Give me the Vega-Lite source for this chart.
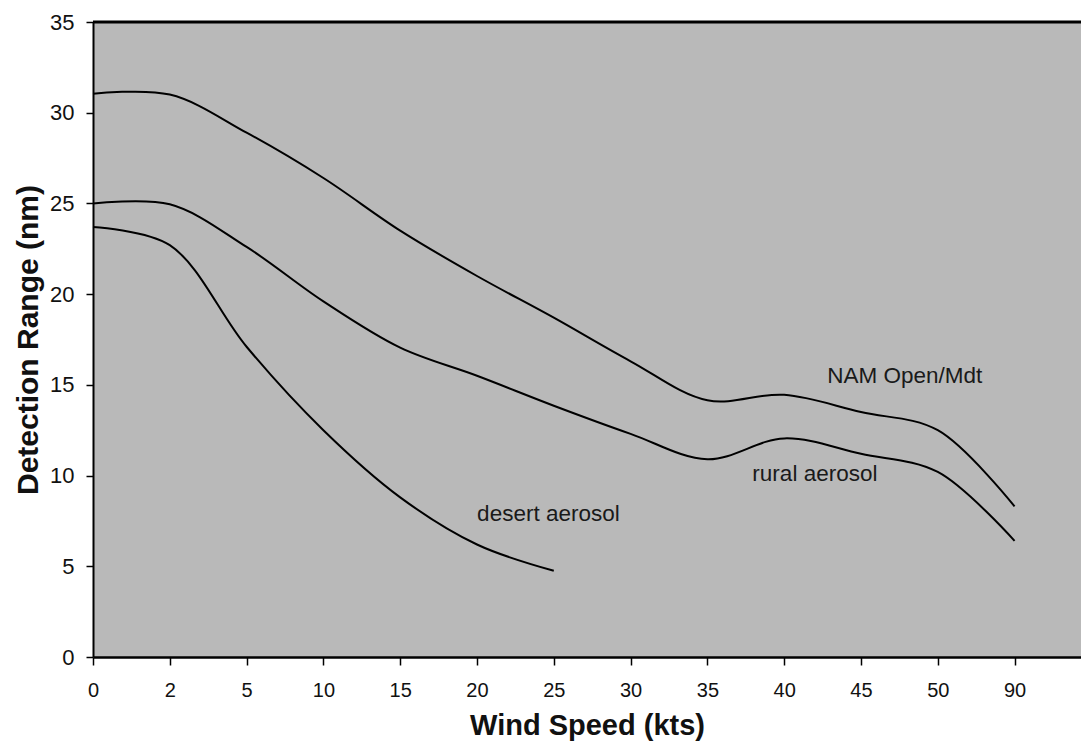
{
  "$schema": "https://vega.github.io/schema/vega-lite/v6.json",
  "autosize": {"type": "none"},
  "padding": {"left": 93, "top": 22, "right": 0, "bottom": 89},
  "width": 988,
  "height": 635,
  "background": "white",
  "config": {
    "view": {"fill": "#b9b9b9", "stroke": null},
    "font": "Liberation Sans",
    "axis": {"grid": false, "domainColor": "black", "tickColor": "black", "labelColor": "#111", "titleColor": "#111", "labelFont": "Liberation Sans", "titleFont": "Liberation Sans"}
  },
  "datasets": {
    "curves": [
      {"series": "NAM Open/Mdt", "pos": 0, "wind": "0", "range": 31.05},
      {"series": "NAM Open/Mdt", "pos": 1, "wind": "2", "range": 31.0},
      {"series": "NAM Open/Mdt", "pos": 2, "wind": "5", "range": 28.9},
      {"series": "NAM Open/Mdt", "pos": 3, "wind": "10", "range": 26.4},
      {"series": "NAM Open/Mdt", "pos": 4, "wind": "15", "range": 23.5},
      {"series": "NAM Open/Mdt", "pos": 5, "wind": "20", "range": 21.0},
      {"series": "NAM Open/Mdt", "pos": 6, "wind": "25", "range": 18.7},
      {"series": "NAM Open/Mdt", "pos": 7, "wind": "30", "range": 16.3},
      {"series": "NAM Open/Mdt", "pos": 8, "wind": "35", "range": 14.15},
      {"series": "NAM Open/Mdt", "pos": 9, "wind": "40", "range": 14.45},
      {"series": "NAM Open/Mdt", "pos": 10, "wind": "45", "range": 13.5},
      {"series": "NAM Open/Mdt", "pos": 11, "wind": "50", "range": 12.5},
      {"series": "NAM Open/Mdt", "pos": 12, "wind": "90", "range": 8.3},
      {"series": "rural aerosol", "pos": 0, "wind": "0", "range": 25.0},
      {"series": "rural aerosol", "pos": 1, "wind": "2", "range": 24.95},
      {"series": "rural aerosol", "pos": 2, "wind": "5", "range": 22.6},
      {"series": "rural aerosol", "pos": 3, "wind": "10", "range": 19.6},
      {"series": "rural aerosol", "pos": 4, "wind": "15", "range": 17.05},
      {"series": "rural aerosol", "pos": 5, "wind": "20", "range": 15.5},
      {"series": "rural aerosol", "pos": 6, "wind": "25", "range": 13.85},
      {"series": "rural aerosol", "pos": 7, "wind": "30", "range": 12.3},
      {"series": "rural aerosol", "pos": 8, "wind": "35", "range": 10.9},
      {"series": "rural aerosol", "pos": 9, "wind": "40", "range": 12.05},
      {"series": "rural aerosol", "pos": 10, "wind": "45", "range": 11.2},
      {"series": "rural aerosol", "pos": 11, "wind": "50", "range": 10.2},
      {"series": "rural aerosol", "pos": 12, "wind": "90", "range": 6.4},
      {"series": "desert aerosol", "pos": 0, "wind": "0", "range": 23.7},
      {"series": "desert aerosol", "pos": 1, "wind": "2", "range": 22.7},
      {"series": "desert aerosol", "pos": 2, "wind": "5", "range": 17.1},
      {"series": "desert aerosol", "pos": 3, "wind": "10", "range": 12.5},
      {"series": "desert aerosol", "pos": 4, "wind": "15", "range": 8.8},
      {"series": "desert aerosol", "pos": 5, "wind": "20", "range": 6.2},
      {"series": "desert aerosol", "pos": 6, "wind": "25", "range": 4.75}
    ],
    "labels": [
      {"text": "NAM Open/Mdt", "pos": 10.57, "range": 15.5},
      {"text": "rural aerosol", "pos": 9.4, "range": 10.1},
      {"text": "desert aerosol", "pos": 5.93, "range": 7.9}
    ],
    "top": [{"range": 35}]
  },
  "layer": [
    {
      "data": {"name": "top"},
      "mark": {"type": "rule", "color": "black", "strokeWidth": 3},
      "encoding": {"y": {"field": "range", "type": "quantitative", "scale": {"domain": [0, 35]}}}
    },
    {
      "data": {"name": "curves"},
      "mark": {"type": "line", "interpolate": "catmull-rom", "color": "black", "strokeWidth": 2},
      "encoding": {
        "x": {
          "field": "pos", "type": "quantitative",
          "scale": {"domain": [0, 12.865], "nice": false, "zero": false},
          "axis": {
            "values": [0, 1, 2, 3, 4, 5, 6, 7, 8, 9, 10, 11, 12],
            "labelExpr": "['0','2','5','10','15','20','25','30','35','40','45','50','90'][datum.value]",
            "title": "Wind Speed (kts)",
            "titleFontSize": 29, "titleFontWeight": "bold", "titlePadding": 11,
            "labelFontSize": 20, "labelPadding": 15, "tickSize": 8, "tickWidth": 1.5,
            "domainWidth": 2.5, "labelFlush": false
          }
        },
        "y": {
          "field": "range", "type": "quantitative",
          "scale": {"domain": [0, 35], "nice": false},
          "axis": {
            "values": [0, 5, 10, 15, 20, 25, 30, 35],
            "title": "Detection Range (nm)",
            "titleFontSize": 30, "titleFontWeight": "bold", "titlePadding": 6,
            "labelFontSize": 22, "labelPadding": 12, "tickSize": 7, "tickWidth": 1.5,
            "domainWidth": 2, "labelFlush": false
          }
        },
        "detail": {"field": "series"}
      }
    },
    {
      "data": {"name": "labels"},
      "mark": {"type": "text", "fontSize": 22.5, "font": "Liberation Sans", "color": "#1a1a1a", "align": "center", "baseline": "middle"},
      "encoding": {
        "x": {"field": "pos", "type": "quantitative"},
        "y": {"field": "range", "type": "quantitative"},
        "text": {"field": "text"}
      }
    }
  ]
}
